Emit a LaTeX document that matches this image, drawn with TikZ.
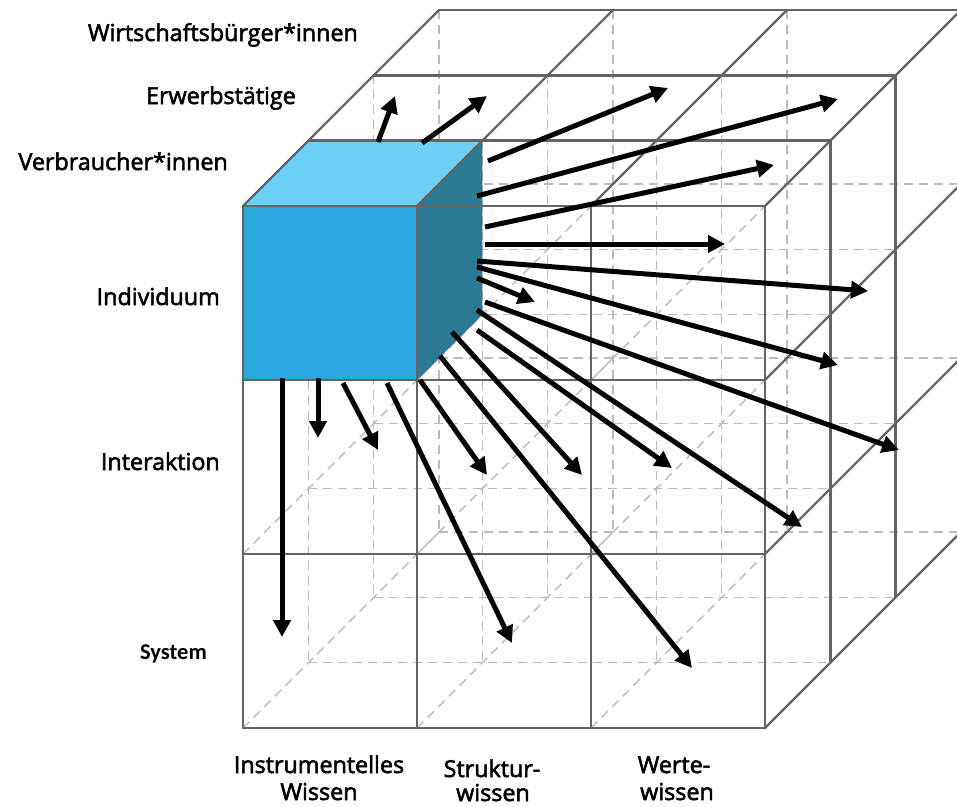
\documentclass[tikz,border=0pt]{standalone}
\usepackage{fontspec}
\setmainfont{Open Sans}
\newfontfamily\lblfont{Open Sans}[FakeBold=2.4]
\newfontfamily\calib{Carlito}
\usetikzlibrary{arrows.meta}
\definecolor{solidgray}{HTML}{646464}
\definecolor{dashgray}{HTML}{BBBBBB}
\definecolor{cubefront}{HTML}{29A8E0}
\definecolor{cubetop}{HTML}{6CD0F5}
\definecolor{cubeside}{HTML}{2A7A94}
\begin{document}
\begin{tikzpicture}[x=1pt,y=-1pt,
  hidden/.style={draw=dashgray,line width=1.4pt,dash pattern=on 9pt off 6pt},
  visible/.style={draw=solidgray,line width=2.4pt,line cap=round},
  bigarrow/.style={line width=5pt,-{Triangle[length=17pt,width=17pt]}},
  lbl/.style={inner sep=0pt,font=\lblfont\fontsize{23.3pt}{28pt}\selectfont},
  syslbl/.style={inner sep=0pt,font=\calib\bfseries\fontsize{22.5pt}{26pt}\selectfont}]
\useasboundingbox (0,0) rectangle (957,806);
\def\cw{174}
\def\dep{65.33}
\begin{scope}
\clip (0,0) rectangle (957,806);
% hidden lattice lines
\foreach \j in {1,2,3} \foreach \k in {1,2,3}
  \draw[hidden] ({243+\dep*\k},{206+\cw*\j-\dep*\k}) -- ++(522,0);
\foreach \i in {0,1,2} \foreach \k in {1,2,3}
  \draw[hidden] ({243+\cw*\i+\dep*\k},{206-\dep*\k}) -- ++(0,522);
\foreach \i in {0,1,2} \foreach \j in {1,2,3}
  \draw[hidden] ({243+\cw*\i},{206+\cw*\j}) -- ++({3*\dep},{-3*\dep});
% blue cube
\fill[cubefront] (243,206) rectangle (417,380);
\fill[cubetop] (243,206) -- (308.33,140.67) -- (482.33,140.67) -- (417,206) -- cycle;
\fill[cubeside] (417,206) -- (482.33,140.67) -- (482.33,314.67) -- (417,380) -- cycle;
% visible faces
\foreach \i in {0,...,3} \draw[visible] ({243+\cw*\i},206) -- ++(0,522);
\foreach \j in {0,...,3} \draw[visible] (243,{206+\cw*\j}) -- ++(522,0);
\foreach \k in {1,2,3} \draw[visible] ({243+\dep*\k},{206-\dep*\k}) -- ++(522,0);
\foreach \i in {0,...,3} \draw[visible] ({243+\cw*\i},206) -- ++({3*\dep},{-3*\dep});
\foreach \k in {1,2,3} \draw[visible] ({765+\dep*\k},{206-\dep*\k}) -- ++(0,522);
\foreach \j in {1,2,3} \draw[visible] (765,{206+\cw*\j}) -- ++({3*\dep},{-3*\dep});
% arrows
\foreach \n/\sx/\sy/\ex/\ey in {1/378/142/395/96, 2/422/143/487/96, 3/488/161/668/88,
  4/477/196/838/99, 5/485/227/774/165, 6/485/244/725/244, 7/477/261/868/291,
  8/477/267/838/365, 9/477/278/535/302, 10/485/302/899/450, 11/477/310/802/527,
  12/477/330/672/468, 13/452/332/582/475, 14/440/356/692/668, 15/420/380/487/475,
  16/387/383/512/643, 17/343/383/378/450, 18/318/378/318/438, 19/282/378/282/637}
{ \coordinate (s\n) at (\sx,\sy); \coordinate (e\n) at (\ex,\ey);
  \draw[bigarrow] (s\n) -- (e\n); }
\end{scope}
% labels
\node[lbl,anchor=base east] (wb) at (358,41) {Wirtschaftsbürger*innen};
\node[lbl,anchor=base east] (ew) at (296,104) {Erwerbstätige};
\node[lbl,anchor=base east] (vb) at (228,170) {Verbraucher*innen};
\node[lbl,anchor=base east] (ind) at (220,305) {Individuum};
\node[lbl,anchor=base east] (int) at (220,470) {Interaktion};
\node[syslbl,anchor=base east] (sys) at (207,659) {System};
\node[lbl,anchor=base] (instrA) at (319,773) {Instrumentelles};
\node[lbl,anchor=base] (instrB) at (319,800) {Wissen};
\node[lbl,anchor=base] (strA) at (492,777) {Struktur-};
\node[lbl,anchor=base] (strB) at (493,801) {wissen};
\node[lbl,anchor=base] (werA) at (674,773) {Werte-};
\node[lbl,anchor=base] (werB) at (677,800) {wissen};
\end{tikzpicture}
\end{document}
